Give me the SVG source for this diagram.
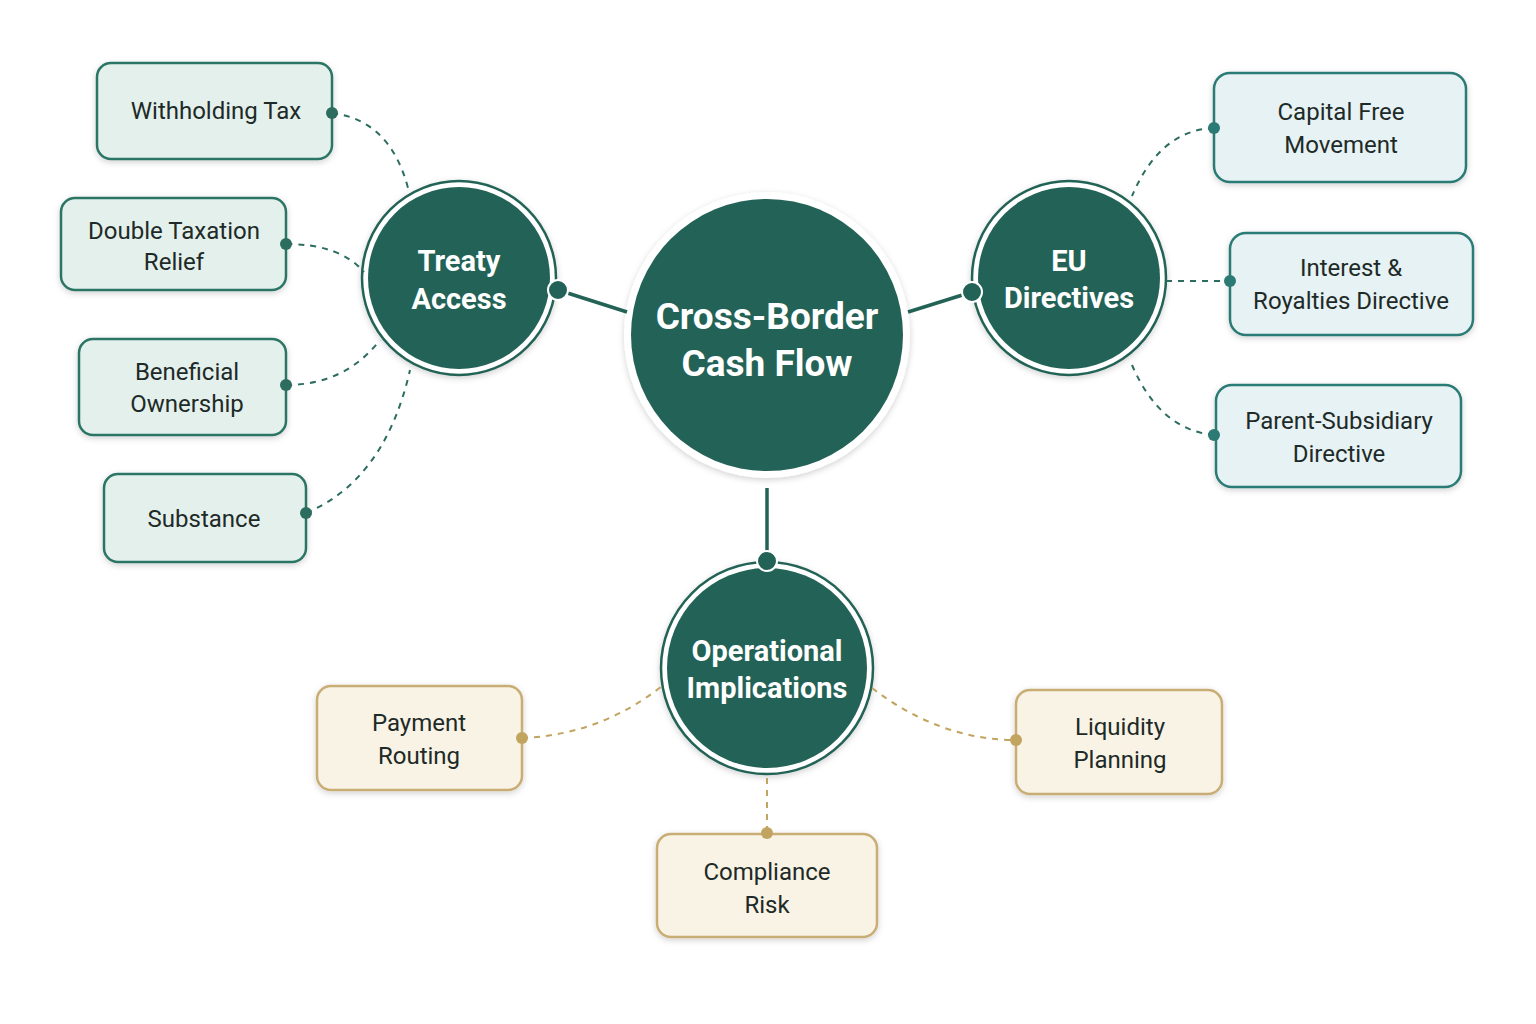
<svg xmlns="http://www.w3.org/2000/svg" width="1536" height="1024" viewBox="0 0 1536 1024">
<defs>
<filter id="sh" x="-20%" y="-20%" width="140%" height="140%"><feDropShadow dx="0" dy="2" stdDeviation="3" flood-color="#000" flood-opacity="0.18"/></filter>
<style>
.hub{fill:#236357}
.ht{font-family:Roboto,"Liberation Sans",sans-serif;font-weight:bold;fill:#fff;text-anchor:middle}
.bx{font-family:Roboto,"Liberation Sans",sans-serif;font-size:24px;fill:#1e2a28;text-anchor:middle}
.g{fill:#e4f0ec;stroke:#2c7564;stroke-width:2.5}
.b{fill:#e6f2f3;stroke:#2c7a74;stroke-width:2.5}
.y{fill:#f8f3e4;stroke:#c8ad75;stroke-width:2.5}
.dg{fill:none;stroke:#2c6d60;stroke-width:2;stroke-dasharray:6 6}
.dy{fill:none;stroke:#c1a45f;stroke-width:2;stroke-dasharray:6 6}
.sl{stroke:#236357;stroke-width:3.5}
</style>
</defs>
<rect width="1536" height="1024" fill="#fff"/>
<g id="center"><circle cx="767" cy="335" r="143" fill="#fff" filter="url(#sh)"/><circle class="hub" cx="767" cy="335" r="136"/>
<text class="ht" font-size="37" x="767" y="329">Cross-Border</text><text class="ht" font-size="37" x="767" y="376">Cash Flow</text></g>
<g id="treaty"><circle cx="459" cy="278" r="97" fill="#fff" stroke="#236357" stroke-width="2.5" filter="url(#sh)"/><circle class="hub" cx="459" cy="278" r="91"/>
<text class="ht" font-size="29" x="459" y="271">Treaty</text><text class="ht" font-size="29" x="459" y="309">Access</text></g>
<g id="eu"><circle cx="1069" cy="278" r="97" fill="#fff" stroke="#236357" stroke-width="2.5" filter="url(#sh)"/><circle class="hub" cx="1069" cy="278" r="91"/>
<text class="ht" font-size="29" x="1069" y="271">EU</text><text class="ht" font-size="29" x="1069" y="308">Directives</text></g>
<g id="ops"><circle cx="767" cy="668" r="106" fill="#fff" stroke="#236357" stroke-width="2.5" filter="url(#sh)"/><circle class="hub" cx="767" cy="668" r="100"/>
<text class="ht" font-size="29" x="767" y="661">Operational</text><text class="ht" font-size="29" x="767" y="698">Implications</text></g>
<g id="n1"><rect class="g" x="97" y="63" width="235" height="96" rx="14" filter="url(#sh)"/><text class="bx" x="216" y="119">Withholding Tax</text></g>
<g id="n2"><rect class="g" x="61" y="198" width="225" height="92" rx="14" filter="url(#sh)"/><text class="bx" x="174" y="239">Double Taxation</text><text class="bx" x="174" y="270">Relief</text></g>
<g id="n3"><rect class="g" x="79" y="339" width="207" height="96" rx="14" filter="url(#sh)"/><text class="bx" x="187" y="380">Beneficial</text><text class="bx" x="187" y="412">Ownership</text></g>
<g id="n4"><rect class="g" x="104" y="474" width="202" height="88" rx="14" filter="url(#sh)"/><text class="bx" x="204" y="527">Substance</text></g>
<g id="n5"><rect class="b" x="1214" y="73" width="252" height="109" rx="16" filter="url(#sh)"/><text class="bx" x="1341" y="120">Capital Free</text><text class="bx" x="1341" y="153">Movement</text></g>
<g id="n6"><rect class="b" x="1230" y="233" width="243" height="102" rx="16" filter="url(#sh)"/><text class="bx" x="1351" y="276">Interest &amp;</text><text class="bx" x="1351" y="309">Royalties Directive</text></g>
<g id="n7"><rect class="b" x="1216" y="385" width="245" height="102" rx="16" filter="url(#sh)"/><text class="bx" x="1339" y="429">Parent-Subsidiary</text><text class="bx" x="1339" y="462">Directive</text></g>
<g id="n8"><rect class="y" x="317" y="686" width="205" height="104" rx="14" filter="url(#sh)"/><text class="bx" x="419" y="731">Payment</text><text class="bx" x="419" y="764">Routing</text></g>
<g id="n9"><rect class="y" x="1016" y="690" width="206" height="104" rx="14" filter="url(#sh)"/><text class="bx" x="1120" y="735">Liquidity</text><text class="bx" x="1120" y="768">Planning</text></g>
<g id="n10"><rect class="y" x="657" y="834" width="220" height="103" rx="14" filter="url(#sh)"/><text class="bx" x="767" y="880">Compliance</text><text class="bx" x="767" y="913">Risk</text></g>
<g id="connectors">
<line class="sl" x1="558" y1="290" x2="627" y2="312"/>
<line class="sl" x1="908" y1="312" x2="972" y2="292"/>
<line class="sl" x1="767" y1="488" x2="767" y2="562"/>
<path class="dg" d="M332 113 Q390 120 408 188"/>
<path class="dg" d="M286 244 Q340 244 364 272"/>
<path class="dg" d="M286 385 Q345 385 380 340"/>
<path class="dg" d="M306 513 Q385 480 410 370"/>
<path class="dg" d="M1214 128 Q1160 130 1132 196"/>
<path class="dg" d="M1166 281 L1230 281"/>
<path class="dg" d="M1214 435 Q1160 430 1132 365"/>
<path class="dy" d="M522 738 Q600 735 662 686"/>
<path class="dy" d="M872 688 Q940 740 1016 740"/>
<path class="dy" d="M767 778 L767 833"/>
<g fill="#236357" stroke="#fff" stroke-width="2"><circle cx="558" cy="290" r="10"/><circle cx="972" cy="292" r="10"/><circle cx="767" cy="561" r="10"/></g>
<g fill="#2c6d60"><circle cx="332" cy="113" r="6"/><circle cx="286" cy="244" r="6"/><circle cx="286" cy="385" r="6"/><circle cx="306" cy="513" r="6"/></g>
<g fill="#2c7a74"><circle cx="1214" cy="128" r="6"/><circle cx="1230" cy="281" r="6"/><circle cx="1214" cy="435" r="6"/></g>
<g fill="#c1a45f"><circle cx="522" cy="738" r="6"/><circle cx="1016" cy="740" r="6"/><circle cx="767" cy="833" r="6"/></g>
</g>
</svg>
